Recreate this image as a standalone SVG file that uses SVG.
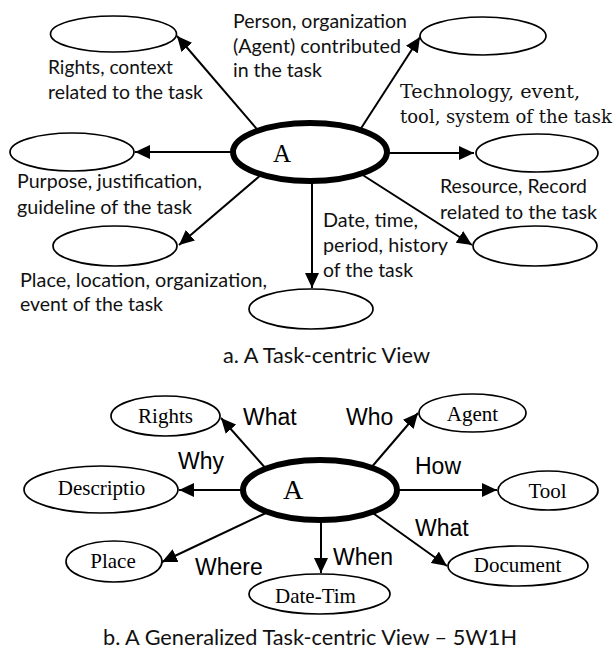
<svg xmlns="http://www.w3.org/2000/svg" width="614" height="651" viewBox="0 0 614 651">
<style>
.nd{fill:#fff;stroke:#000;stroke-width:1.7}
.ctr{fill:#fff;stroke:#000;stroke-width:6}
.ed{stroke:#000;stroke-width:2;fill:none;marker-end:url(#ah)}
.lb{font-family:Lato,"Open Sans",sans-serif;font-size:19px;fill:#111}
.cap{font-family:Lato,"Open Sans",sans-serif;font-size:21px;fill:#111}
.ms{font-family:"DejaVu Serif","Liberation Serif",serif;font-size:18px;fill:#111}
.sr{font-family:"Liberation Serif",serif;font-size:21px;fill:#000;text-anchor:middle}
.big{font-family:"Liberation Serif",serif;fill:#000}
.ar{font-family:"Liberation Sans",Arial,sans-serif;font-size:23px;fill:#000}
</style>
<defs>
<marker id="ah" markerUnits="userSpaceOnUse" markerWidth="16" markerHeight="14" refX="15" refY="7" orient="auto">
<path d="M0,0 L15,7 L0,14 z" fill="#000"/>
</marker>
</defs>

<g id="connectors-a">
<line class="ed" x1="262" y1="135" x2="177" y2="36"/>
<line class="ed" x1="236" y1="152" x2="135" y2="152"/>
<line class="ed" x1="262" y1="174" x2="179" y2="245"/>
<line class="ed" x1="312" y1="178" x2="312" y2="288"/>
<line class="ed" x1="358" y1="172" x2="472" y2="245"/>
<line class="ed" x1="384" y1="153" x2="474" y2="153"/>
<line class="ed" x1="358" y1="133" x2="420" y2="37"/>
</g>

<g id="a-center"><ellipse class="ctr" cx="310" cy="152" rx="77" ry="29"/><text class="big" x="273" y="162" font-size="25">A</text></g>
<g id="a-rights"><ellipse class="nd" cx="113.5" cy="34" rx="63" ry="18"/></g>
<g id="a-purpose"><ellipse class="nd" cx="72" cy="152" rx="62" ry="19"/></g>
<g id="a-place"><ellipse class="nd" cx="115" cy="246" rx="62" ry="20"/></g>
<g id="a-date"><ellipse class="nd" cx="311" cy="309" rx="62" ry="20"/></g>
<g id="a-resource"><ellipse class="nd" cx="535" cy="246" rx="62" ry="20"/></g>
<g id="a-tool"><ellipse class="nd" cx="537" cy="153" rx="61" ry="19"/></g>
<g id="a-agent"><ellipse class="nd" cx="483" cy="36" rx="63" ry="19"/></g>

<g id="a-labels">
<text class="lb" x="48" y="74" textLength="125" lengthAdjust="spacingAndGlyphs">Rights, context</text>
<text class="lb" x="48" y="99" textLength="155" lengthAdjust="spacingAndGlyphs">related to the task</text>
<text class="lb" x="233" y="28" textLength="174" lengthAdjust="spacingAndGlyphs">Person, organization</text>
<text class="lb" x="233" y="53" textLength="168" lengthAdjust="spacingAndGlyphs">(Agent) contributed</text>
<text class="lb" x="233" y="77" textLength="89" lengthAdjust="spacingAndGlyphs">in the task</text>
<text class="ms" x="400" y="98" textLength="180" lengthAdjust="spacingAndGlyphs">Technology, event,</text>
<text class="ms" x="400" y="123" textLength="212" lengthAdjust="spacingAndGlyphs">tool, system of the task</text>
<text class="lb" x="17" y="188" textLength="185" lengthAdjust="spacingAndGlyphs">Purpose, justification,</text>
<text class="lb" x="17" y="214" textLength="175" lengthAdjust="spacingAndGlyphs">guideline of the task</text>
<text class="lb" x="440" y="193" textLength="147" lengthAdjust="spacingAndGlyphs">Resource, Record</text>
<text class="lb" x="440" y="219" textLength="157" lengthAdjust="spacingAndGlyphs">related to the task</text>
<text class="lb" x="323" y="227" textLength="95" lengthAdjust="spacingAndGlyphs">Date, time,</text>
<text class="lb" x="323" y="252" textLength="125" lengthAdjust="spacingAndGlyphs">period, history</text>
<text class="lb" x="323" y="277" textLength="90" lengthAdjust="spacingAndGlyphs">of the task</text>
<text class="lb" x="20" y="287" textLength="247" lengthAdjust="spacingAndGlyphs">Place, location, organization,</text>
<text class="lb" x="20" y="311" textLength="143" lengthAdjust="spacingAndGlyphs">event of the task</text>
<text class="cap" x="223" y="363" font-size="19.5" textLength="207" lengthAdjust="spacingAndGlyphs">a. A Task-centric View</text>
</g>

<g id="connectors-b">
<line class="ed" x1="268" y1="471" x2="221" y2="418"/>
<line class="ed" x1="246" y1="490" x2="179" y2="490"/>
<line class="ed" x1="268" y1="512" x2="162" y2="562"/>
<line class="ed" x1="321" y1="516" x2="321" y2="573"/>
<line class="ed" x1="370" y1="511" x2="447" y2="566"/>
<line class="ed" x1="394" y1="490" x2="497" y2="490"/>
<line class="ed" x1="370" y1="469" x2="418" y2="413"/>
</g>

<g id="b-center"><ellipse class="ctr" cx="320" cy="490" rx="77" ry="30"/><text class="big" x="283" y="499" font-size="28">A</text></g>
<g id="b-rights"><ellipse class="nd" cx="165.5" cy="416" rx="54.5" ry="20"/><text class="sr" x="165.5" y="423">Rights</text></g>
<g id="b-description"><ellipse class="nd" cx="101" cy="489.5" rx="77" ry="23.5"/><text class="sr" x="101.5" y="495">Descriptio</text></g>
<g id="b-place"><ellipse class="nd" cx="114" cy="561.5" rx="48" ry="20.5"/><text class="sr" x="113" y="568">Place</text></g>
<g id="b-datetime"><ellipse class="nd" cx="319.5" cy="594" rx="70.5" ry="20"/><text class="sr" x="315.5" y="603">Date-Tim</text></g>
<g id="b-document"><ellipse class="nd" cx="518" cy="566" rx="70" ry="20"/><text class="sr" x="517.5" y="572">Document</text></g>
<g id="b-tool"><ellipse class="nd" cx="548" cy="490.5" rx="50" ry="19.5"/><text class="sr" x="547.5" y="498">Tool</text></g>
<g id="b-agent"><ellipse class="nd" cx="472.5" cy="413" rx="53.5" ry="19"/><text class="sr" x="472.5" y="421">Agent</text></g>

<g id="b-labels">
<text class="ar" x="243" y="425">What</text>
<text class="ar" x="346" y="425">Who</text>
<text class="ar" x="178" y="469">Why</text>
<text class="ar" x="415" y="474">How</text>
<text class="ar" x="415" y="536">What</text>
<text class="ar" x="333" y="565">When</text>
<text class="ar" x="195" y="575">Where</text>
<text class="cap" x="103" y="645" textLength="414" lengthAdjust="spacingAndGlyphs">b. A Generalized Task-centric View – 5W1H</text>
</g>
</svg>
